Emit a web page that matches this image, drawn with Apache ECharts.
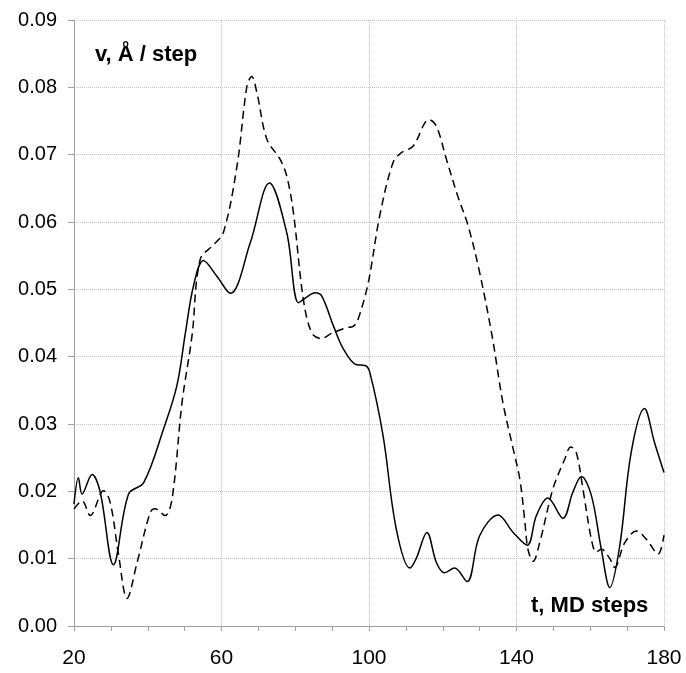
<!DOCTYPE html>
<html>
<head>
<meta charset="utf-8">
<title>v(t)</title>
<script src="https://cdn.jsdelivr.net/npm/echarts@6/dist/echarts.min.js"></script>
<style>
  html, body { margin: 0; padding: 0; background: #fff; }
  #myChart { width: 686px; height: 673px; }
</style>
</head>
<body>
<div id="myChart"></div>
<script>
// solid curve
var solidT = [20, 21.2, 22.2, 24.9, 27.1, 30.7, 34.8, 38.9, 44.3, 47.9, 50.2, 52.4, 55.1, 58.8, 62.4,
  67.8, 73, 77.7, 80.9, 83, 85.4, 87.2, 90.4, 93, 96.6, 98.9, 100.2, 103.8, 107.4, 111.1, 112.8,
  115.7, 118.3, 120.5, 123.2, 126.6, 130, 135, 139.1, 142.9, 145.4, 148.5, 152.6, 155.3, 157.6,
  160.3, 163, 165.3, 168, 171.1, 174.7, 177.4, 180]
var solidV = [0.0181, 0.0220, 0.0196, 0.0225, 0.0199, 0.0091, 0.0196, 0.0213, 0.0293, 0.0357, 0.0435,
  0.0505, 0.0543, 0.0519, 0.0494, 0.0569, 0.0658, 0.0584, 0.0480, 0.0488, 0.0495, 0.0490, 0.0445,
  0.0412, 0.0388, 0.0387, 0.0377, 0.0283, 0.0144, 0.0086, 0.0100, 0.0139, 0.0094, 0.0079, 0.0086,
  0.0066, 0.0134, 0.0165, 0.0139, 0.0120, 0.0164, 0.0190, 0.0160, 0.0199, 0.0222, 0.0194, 0.0114,
  0.0057, 0.0119, 0.0258, 0.0323, 0.0273, 0.0228]

// dashed curve
var dashT = [20, 22.2, 24.4, 28, 29.8, 32, 34.4, 37.1, 40.7, 42, 44.7, 46.6, 49.3, 52, 54.2, 57.8,
  60.5, 64.2, 66.9, 68.2, 69.6, 72.3, 75.9, 77.7, 79.5, 82.2, 84.5, 87, 90, 93.9, 95.7, 97, 99.8,
  102.9, 106.5, 108.8, 112, 115.1, 116.3, 118.3, 121, 124.1, 126.9, 130, 133.4, 136.3, 139.1,
  140.9, 142.2, 143.1, 144.5, 146.3, 149.9, 153.1, 154.7, 156.2, 158, 160.3, 161.6, 163, 165.3,
  166.6, 169.3, 172.5, 175.2, 178.4, 180]
var dashV = [0.0174, 0.0186, 0.0164, 0.0201, 0.0184, 0.0109, 0.0041, 0.0094, 0.0169, 0.0174, 0.0164,
  0.0189, 0.0332, 0.0431, 0.0544, 0.0566, 0.0584, 0.0683, 0.0802, 0.0816, 0.0792, 0.0723, 0.0693,
  0.0668, 0.0614, 0.0485, 0.0435, 0.0427, 0.0435, 0.0443, 0.0445, 0.0455, 0.0510, 0.0609, 0.0688,
  0.0703, 0.0713, 0.0747, 0.0752, 0.0742, 0.0693, 0.0638, 0.0594, 0.0525, 0.0430, 0.0332, 0.0263,
  0.0218, 0.0159, 0.0114, 0.0096, 0.0124, 0.0204, 0.0248, 0.0266, 0.0258, 0.0204, 0.0129, 0.0110,
  0.0114, 0.0100, 0.0087, 0.0123, 0.0141, 0.0129, 0.0107, 0.0135]

var xTicks = [20, 60, 100, 140, 180]
var yLabel = 'v, Å / step'
var xLabel = 't, MD steps'

function pairs (ts, vs) {
  var out = []
  for (var i = 0; i < ts.length; i++) {
    out.push([ts[i], vs[i]])
  }
  return out
}

var font = 'Liberation Sans, Arial, sans-serif'
var myChart = echarts.init(document.getElementById('myChart'))
var option = {
  backgroundColor: '#fff',
  animation: false,
  grid: {
    left: 74,
    right: 22,
    top: 20,
    bottom: 47
  },
  xAxis: {
    type: 'value',
    min: xTicks[0],
    max: xTicks[xTicks.length - 1],
    interval: 40,
    axisLine: { show: true, lineStyle: { color: '#a0a0a0', width: 1 } },
    axisTick: { show: true, length: 5, lineStyle: { color: '#a0a0a0' } },
    minorTick: { show: true, splitNumber: 4, length: 5, lineStyle: { color: '#a0a0a0' } },
    axisLabel: { color: '#000', fontSize: 21, fontFamily: font, margin: 22 },
    splitLine: { show: true, lineStyle: { color: '#c4c4c4', type: 'dotted', width: 1 } }
  },
  yAxis: {
    type: 'value',
    min: 0,
    max: 0.09,
    interval: 0.01,
    axisLine: { show: true, lineStyle: { color: '#a0a0a0', width: 1 } },
    axisTick: { show: true, length: 6, lineStyle: { color: '#a0a0a0' } },
    axisLabel: {
      color: '#000',
      fontSize: 20,
      fontFamily: font,
      margin: 17,
      formatter: function (v) { return v.toFixed(2) }
    },
    splitLine: { show: true, lineStyle: { color: '#c4c4c4', type: 'dotted', width: 1 } }
  },
  graphic: [
    {
      type: 'text',
      left: 95,
      top: 44,
      style: { text: yLabel, fill: '#000', font: 'bold 22px ' + font }
    },
    {
      type: 'text',
      left: 531,
      top: 595,
      style: { text: xLabel, fill: '#000', font: 'bold 22px ' + font }
    }
  ],
  series: [
    {
      name: 'solid',
      type: 'line',
      data: pairs(solidT, solidV),
      smooth: 0.35,
      symbol: 'none',
      lineStyle: { color: '#000', width: 1.5, type: 'solid' }
    },
    {
      name: 'dashed',
      type: 'line',
      data: pairs(dashT, dashV),
      smooth: 0.35,
      symbol: 'none',
      lineStyle: { color: '#000', width: 1.5, type: [8, 5] }
    }
  ]
}
myChart.setOption(option)
</script>
</body>
</html>
